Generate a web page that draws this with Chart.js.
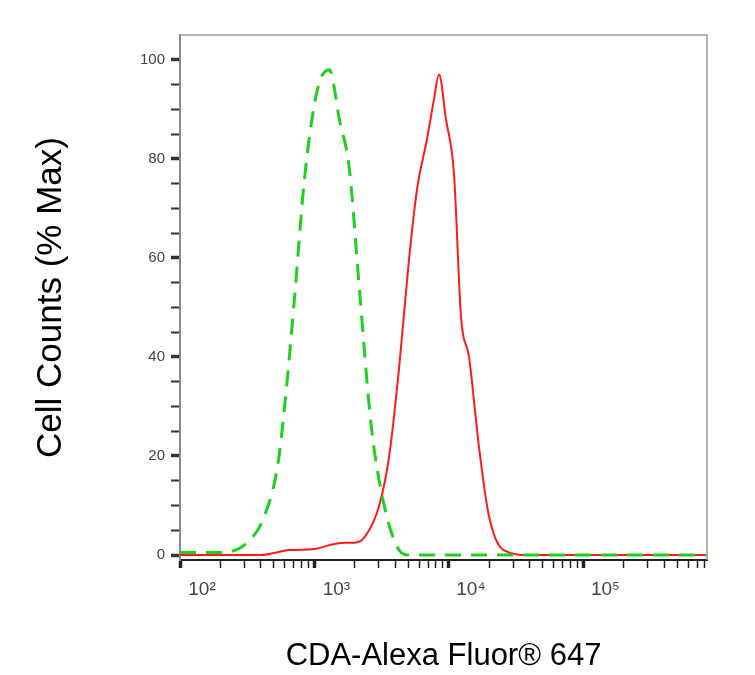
<!DOCTYPE html>
<html>
<head>
<meta charset="utf-8">
<script src="https://cdn.jsdelivr.net/npm/chart.js@4/dist/chart.umd.min.js"></script>
<style>
  html, body { margin: 0; padding: 0; background: #fff; }
  #wrap { width: 755px; height: 675px; }
</style>
</head>
<body>
<div id="wrap"><canvas id="histo" width="755" height="675"></canvas></div>
<script>
// fluorescence intensity (x) and % max (y)
var isoX = [100, 205, 330, 426, 532, 600, 711, 843, 1052, 1291, 1531, 1816, 2154, 2645, 3302, 4266, 5060, 10000, 100000, 830000];
var isoY = [0.5, 0.5, 3, 8, 18, 30, 52, 76, 94, 98, 88, 78, 54, 26, 10, 1, 0, 0, 0, 0];
var stainX = [100, 400, 653, 1000, 1290, 1670, 1980, 2344, 3030, 3594, 4266, 5060, 5800, 6870, 7740, 8440, 9500, 10900, 12300, 14100, 16700, 19800, 25500, 40000, 100000, 830000];
var stainY = [0, 0, 1, 1.2, 2, 2.5, 2.5, 3.5, 10, 20, 38, 60, 74, 84, 92, 97, 88, 77, 48, 40, 22, 8, 1, 0, 0, 0];
var yTicks = [0, 20, 40, 60, 80, 100];
var decades = [100, 1000, 10000, 100000];
var supers = { 100: '10²', 1000: '10³', 10000: '10⁴', 100000: '10⁵' };

function pts(xs, ys) {
  return xs.map(function(x, i) { return { x: x, y: ys[i] }; });
}

var frame = {
  id: 'frame',
  afterDraw: function(chart) {
    var a = chart.chartArea, c = chart.ctx;
    c.save();
    c.strokeStyle = '#999';
    c.lineWidth = 1.5;
    c.beginPath();
    c.moveTo(a.left, a.top);
    c.lineTo(a.right, a.top);
    c.lineTo(a.right, a.bottom);
    c.stroke();
    c.restore();
  }
};

var ctx = document.getElementById('histo').getContext('2d');
new Chart(ctx, {
  type: 'line',
  data: {
    datasets: [{
      label: 'Isotype',
      data: pts(isoX, isoY),
      borderColor: '#1fd01f',
      borderWidth: 3,
      borderDash: [16, 10],
      pointRadius: 0,
      cubicInterpolationMode: 'monotone',
      fill: false
    }, {
      label: 'CDA',
      data: pts(stainX, stainY),
      borderColor: '#ff1a1a',
      borderWidth: 2,
      pointRadius: 0,
      cubicInterpolationMode: 'monotone',
      fill: false
    }]
  },
  plugins: [frame],
  options: {
    responsive: false,
    animation: false,
    layout: { padding: { top: 35, right: 48, left: 30, bottom: 0 } },
    plugins: { legend: { display: false }, tooltip: { enabled: false } },
    scales: {
      x: {
        type: 'logarithmic',
        min: 100,
        max: 830000,
        afterFit: function(s) { s.height = 115; },
        afterBuildTicks: function(s) {
          var t = [];
          for (var d = 100; d < 1e6; d *= 10) {
            for (var m = 1; m < 10; m++) {
              var v = d * m;
              if (v >= 100 && v <= 830000) t.push({ value: v });
            }
          }
          s.ticks = t;
        },
        grid: {
          drawOnChartArea: false,
          tickLength: 8,
          tickColor: '#222',
          tickWidth: function(c) { return decades.indexOf(c.tick && c.tick.value) >= 0 ? 3.5 : 1.5; }
        },
        border: { color: '#222', width: 2 },
        ticks: {
          autoSkip: false,
          maxRotation: 0,
          labelOffset: 22,
          padding: 10,
          color: '#444',
          font: { family: 'Liberation Sans', size: 19 },
          callback: function(v) { return supers[v] || ''; }
        },
        title: {
          display: true,
          text: 'CDA-Alexa Fluor® 647',
          color: '#000',
          font: { family: 'Liberation Sans', size: 31 },
          padding: { top: 16, bottom: 0 }
        }
      },
      y: {
        min: -1,
        max: 105,
        afterFit: function(s) { s.width = 150; },
        afterBuildTicks: function(s) {
          var t = [];
          for (var v = 0; v <= 100; v += 5) t.push({ value: v });
          s.ticks = t;
        },
        grid: {
          drawOnChartArea: false,
          tickLength: 9,
          tickColor: '#333',
          tickWidth: function(c) { return c.tick && yTicks.indexOf(c.tick.value) >= 0 ? 3.5 : 2; }
        },
        border: { color: '#888', width: 2 },
        ticks: {
          autoSkip: false,
          padding: 6,
          color: '#444',
          font: { family: 'Liberation Sans', size: 15 },
          callback: function(v) { return yTicks.indexOf(v) >= 0 ? String(v) : ''; }
        },
        title: {
          display: true,
          text: 'Cell Counts (% Max)',
          color: '#000',
          font: { family: 'Liberation Sans', size: 35 },
          padding: { top: 0, bottom: 0 }
        }
      }
    }
  }
});
</script>
</body>
</html>
